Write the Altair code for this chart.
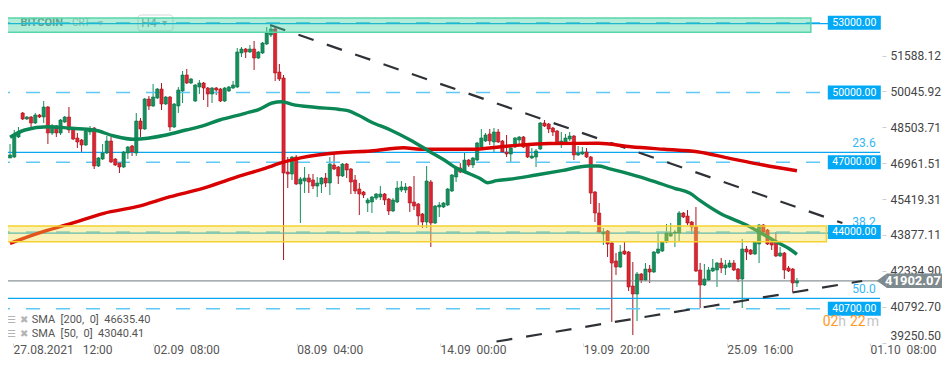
import altair as alt
import pandas as pd

# ---------------- data ----------------
# 4h candles, index 0 = 27.08.2021 12:00
OPEN = [47185, 47228, 48088, 49120, 48862, 48948, 48690, 49034, 48948, 49378,
        48260, 48561, 48260, 48733, 48948, 48432, 48045, 47959, 47744, 48303,
        48475, 46841, 47142, 47400, 47916, 47142, 46970, 46798, 47400, 47701,
        47400, 48776, 48432, 49722, 49421, 49765, 50152, 49507, 49808, 48518,
        49421, 50066, 50754, 50410, 49636, 50238, 50410, 50195, 49937, 50195,
        50152, 49636, 50066, 50195, 50238, 51700, 51872, 51743, 51872, 51485,
        51700, 52087, 52474, 52732, 50883, 50625, 46583, 46497, 47228, 46067,
        46196, 46325, 46239, 45981, 46067, 46325, 46110, 46884, 46798, 46411,
        46927, 46712, 46239, 45852, 45723, 45250, 45293, 45465, 45508, 45637,
        45422, 44906, 45293, 45809, 45809, 45938, 45293, 45207, 44777, 44433,
        46153, 44390, 45078, 45078, 45164, 45766, 46368, 46755, 46626, 47099,
        46884, 47099, 47658, 47916, 48217, 47873, 48303, 47916, 47443, 47357,
        47658, 47959, 48088, 47744, 47185, 47228, 47572, 48690, 48647, 48475,
        48346, 47830, 47830, 48002, 48131, 47314, 47357, 47443, 47228, 45723,
        44820, 43917, 44046, 43530, 42756, 42498, 43186, 43143, 41681, 41337,
        42197, 41939, 42412, 42283, 43100, 43186, 43573, 43831, 43960, 43960,
        44820, 44691, 44433, 44218, 42369, 41724, 41939, 42326, 42369, 42670,
        42455, 42498, 42670, 42412, 41982, 43272, 43229, 43057, 43487, 44304,
        44089, 43573, 43573, 42971, 43100, 42455, 42412, 41810]
HIGH = [47787, 48389, 48518, 49163, 48991, 48991, 49120, 49077, 49636, 49421,
        48647, 48604, 48862, 48991, 49378, 48475, 48260, 48002, 48432, 48561,
        48518, 47228, 47787, 48131, 48088, 47185, 47013, 47486, 47701, 47744,
        49120, 48905, 49765, 49851, 50367, 50195, 50410, 49851, 49851, 49550,
        50238, 50926, 51012, 50625, 50367, 50539, 50453, 50238, 50238, 50238,
        50195, 50238, 50281, 50496, 51915, 51958, 51915, 52044, 52216, 51786,
        52173, 52818, 52904, 52818, 51227, 50754, 47228, 47271, 47314, 46368,
        46798, 46497, 46497, 46368, 46368, 46540, 47228, 47400, 46841, 46970,
        46970, 46755, 46454, 46110, 45766, 45465, 45551, 45680, 45981, 45680,
        45465, 45465, 46196, 46196, 46110, 45981, 46411, 45250, 44820, 46841,
        46239, 45164, 45293, 45293, 45895, 46497, 46798, 46970, 47443, 47142,
        47228, 47873, 48432, 48260, 48432, 48475, 48432, 47959, 48174, 47658,
        48088, 48131, 48131, 47787, 47615, 47572, 48733, 48819, 48690, 48518,
        48389, 48303, 48217, 48303, 48174, 47701, 47658, 47615, 47271, 45766,
        45250, 44175, 44089, 43573, 43100, 43444, 43573, 43186, 42713, 42283,
        42240, 42670, 42584, 43186, 43960, 43616, 44347, 44390, 44089, 44906,
        44863, 44949, 44476, 45078, 42670, 42627, 42498, 42842, 42713, 42885,
        42799, 42799, 42799, 42455, 43702, 43401, 43272, 43616, 44347, 44347,
        44132, 43616, 44003, 43358, 43143, 42541, 42455, 42025]
LOW = [47185, 47185, 48045, 48819, 48819, 48518, 48647, 48905, 48690, 47787,
       48174, 48088, 48174, 48690, 48260, 47959, 47615, 47400, 47701, 48174,
       46712, 46798, 47099, 47357, 46970, 46841, 46540, 46755, 47142, 47271,
       47271, 48088, 48389, 49249, 49378, 49722, 49249, 49464, 48346, 48475,
       49120, 49550, 50367, 50367, 49593, 49937, 49679, 49378, 49550, 49894,
       49593, 49593, 50023, 50152, 50195, 51528, 51485, 51700, 50969, 51442,
       51657, 52044, 52388, 50496, 50496, 42799, 45895, 46239, 46024, 44390,
       45680, 45680, 45852, 45508, 45680, 45938, 45594, 46669, 46067, 46368,
       46325, 45637, 45637, 44734, 45465, 44863, 44820, 45379, 45379, 45164,
       44734, 44863, 45250, 45723, 45680, 44863, 44949, 44304, 44175, 44175,
       43358, 44347, 44648, 45035, 45121, 45723, 46153, 46540, 46583, 46798,
       46755, 47056, 47615, 47873, 47744, 47400, 47830, 47400, 47228, 47013,
       47615, 47744, 47615, 47185, 47142, 46798, 47529, 48518, 48260, 48131,
       47787, 47615, 47787, 47916, 47099, 47271, 47314, 47185, 45207, 44433,
       43960, 43444, 42928, 40133, 42154, 42455, 43014, 41466, 39574, 40176,
       41810, 41896, 41810, 42240, 43057, 43143, 43530, 43788, 43358, 43616,
       44605, 44304, 43917, 42283, 40735, 41681, 41896, 42283, 41638, 42240,
       42154, 42455, 42326, 41853, 40735, 42799, 43014, 43014, 42670, 43960,
       43444, 43229, 42928, 42928, 41982, 42283, 41423, 41638]
CLOSE = [47314, 48174, 48303, 48862, 48948, 48690, 49034, 48948, 49378, 48260,
         48561, 48260, 48819, 48948, 48389, 48002, 47873, 47744, 48346, 48389,
         46841, 47185, 47400, 47916, 47013, 46884, 46798, 47443, 47658, 47443,
         48776, 48432, 49722, 49421, 49808, 50152, 49507, 49808, 48518, 49507,
         50109, 50754, 50410, 50582, 50324, 50410, 50195, 49937, 50195, 50109,
         49636, 50195, 50238, 50324, 51743, 51872, 51743, 51872, 51485, 51743,
         52130, 52560, 52732, 50840, 50582, 46540, 46497, 47228, 46067, 46282,
         46325, 46153, 45981, 46110, 46325, 46110, 46927, 46712, 46411, 46927,
         46669, 46153, 45766, 45637, 45594, 45379, 45508, 45637, 45637, 45379,
         44906, 45379, 45895, 45938, 45938, 45250, 45121, 44691, 44433, 46196,
         44390, 45121, 45164, 45250, 45852, 46454, 46755, 46583, 47099, 46884,
         47185, 47830, 48045, 48174, 47916, 48303, 47873, 47443, 47357, 47615,
         48045, 48088, 47658, 47228, 47271, 47486, 48690, 48561, 48432, 48303,
         47830, 47916, 48045, 48131, 47314, 47400, 47443, 47228, 45680, 44820,
         44003, 44003, 43487, 42670, 42498, 43143, 43057, 41638, 41337, 42197,
         41939, 42412, 42283, 43143, 43272, 43573, 43960, 43960, 44003, 44820,
         44648, 44390, 44218, 42326, 41724, 41982, 42369, 42455, 42670, 42455,
         42584, 42670, 42369, 41982, 43272, 43143, 43057, 43573, 44304, 44003,
         43487, 43444, 42971, 43100, 42369, 42326, 41810, 41902.07]

SMA50_I = [0, 3.5, 8.9, 14.6, 20, 24.7, 29.4, 37.1, 41.8, 45.1, 49.8, 55.9, 59.2,
           62.3, 64.6, 67, 72.4, 78, 80.3, 82.7, 85.7, 90.4, 95.1, 99.8, 102.9,
           106.2, 109.3, 111.6, 113.5, 115.6, 118.6, 125, 131.1, 137.4, 139.8,
           142.1, 145.2, 151.5, 157.9, 161.6, 164, 168.7, 175, 181.3, 185.6, 187]
SMA50_V = [48075, 48389, 48531, 48462, 48389, 48131, 47989, 48174, 48389, 48531,
           48819, 49107, 49279, 49550, 49606, 49494, 49365, 49279, 49219, 49034,
           48746, 48389, 47959, 47456, 47129, 46742, 46497, 46312, 46123, 46209,
           46269, 46454, 46639, 46841, 46841, 46742, 46596, 46269, 45882, 45667,
           45349, 44807, 44304, 43659, 43229, 43040.41]
SMA200_I = [0, 6.6, 14.6, 22.3, 30.1, 38.1, 45.8, 52.9, 60.6, 64.6, 69.3, 78,
            85.7, 93.5, 97.5, 109.2, 118.6, 128, 139.8, 147.5, 155.5, 163.3,
            171, 179, 187]
SMA200_V = [43517, 43947, 44377, 44807, 45091, 45521, 45882, 46312, 46742, 46983,
            47198, 47413, 47486, 47628, 47559, 47559, 47701, 47809, 47817, 47671,
            47559, 47456, 47172, 46884, 46635.40]

X_LABELS = ["27.08.2021\u00a0\u00a0\u00a012:00", "02.09\u00a0\u00a008:00",
            "08.09\u00a0\u00a004:00", "14.09\u00a0\u00a000:00",
            "19.09\u00a0\u00a020:00", "25.09\u00a0\u00a016:00",
            "01.10\u00a0\u00a008:00"]
X_LABEL_STEP = 34.06          # candles between two time labels
Y_TICKS = [39250.50, 40792.70, 42334.90, 43877.11, 45419.31, 46961.51,
           48503.71, 50045.92, 51588.12]
LEVELS = [53000, 50000, 47000, 44000, 40700]
FIB_NAMES = ["23.6", "38.2", "50.0"]
FIB_VALUES = [47430, 43958, 41152]
FIB_TOP = 52960
LAST_PRICE = 41902.07
TREND_NAME = ["upper", "upper", "lower", "lower"]
TREND_I = [61.8, 197.8, 115.6, 202.5]
TREND_P = [52904, 44390, 39294, 41896]
ZONE_NAME = ["teal", "yellow"]
ZONE_I0 = [-1, -1]
ZONE_I1 = [190.3, 194.0]
ZONE_LO = [52590, 43586]
ZONE_HI = [53205, 44261]
SMA_LEGEND = ["SMA\u00a0\u00a0[200,\u00a0\u00a00]\u00a0\u00a046635.40",
              "SMA\u00a0\u00a0[50,\u00a0\u00a00]\u00a0\u00a043040.41"]

# ---------------- geometry ----------------
W, H = 872, 335
X_MIN, X_MAX = 0.705, 205.55
Y_MIN, Y_MAX = 39230, 53635
FONT = "Roboto"

xs = alt.Scale(domain=[X_MIN, X_MAX], nice=False, zero=False)
ys = alt.Scale(domain=[Y_MIN, Y_MAX], nice=False, zero=False)

UP, DN = "#14905c", "#de2430"
UP_W, DN_W = "#14905c", "#a8161f"

candles = pd.DataFrame({"i": range(len(OPEN)), "o": OPEN, "h": HIGH,
                        "l": LOW, "c": CLOSE})

x_ticks = [max(k * X_LABEL_STEP, X_MIN) for k in range(len(X_LABELS))]
label_arr = "[" + ",".join("'" + s + "'" for s in X_LABELS) + "]"
X_AXIS = alt.Axis(values=x_ticks,
                  labelExpr=label_arr + "[round(datum.value / %s)]" % X_LABEL_STEP,
                  labelAlign="left", labelBaseline="top", labelPadding=-2,
                  tickSize=3, tickColor="#d6d6d6", domain=False, grid=False,
                  labelFontSize=12, labelColor="#555555", labelFont=FONT,
                  title=None, labelOverlap=False, labelBound=False)
Y_AXIS = alt.Axis(orient="right", values=Y_TICKS, format=".2f", offset=2,
                  tickSize=4, tickColor="#cfcfcf", labelPadding=4,
                  domain=False, grid=False, labelFontSize=12,
                  labelColor="#444444", labelFont=FONT, title=None,
                  labelFlush=2, labelOverlap=False)


def X(field):
    return alt.X(field, scale=xs, axis=X_AXIS)


def Y(field):
    return alt.Y(field, scale=ys, axis=Y_AXIS)


def txt(text, x, y, **kw):
    return alt.Chart(pd.DataFrame({"t": [text]})).mark_text(font=FONT, **kw).encode(
        x=alt.value(x), y=alt.value(y), text="t:N")


up_test = "datum.c >= datum.o"
layers = []

# candle wicks first (carries both axes)
layers.append(alt.Chart(candles).mark_rule(strokeWidth=1).encode(
    x=X("i:Q"), y=Y("l:Q"), y2="h:Q",
    color=alt.condition(up_test, alt.value(UP_W), alt.value(DN_W))))

# header (under the teal zone)
layers.append(alt.Chart(pd.DataFrame({"a": [1]})).mark_rect(
    fill="white", fillOpacity=0.25, stroke="#cfd8d8", strokeWidth=1,
    cornerRadius=3).encode(x=alt.value(130), x2=alt.value(165),
                            y=alt.value(7), y2=alt.value(23)))
layers.append(txt("BITCOIN", 33.7, 15, fontSize=11, fontWeight="bold", color="#768383"))
layers.append(txt("CRT", 73, 15, fontSize=10, color="#a6b2b2"))
layers.append(txt("\u25be", 92, 15, fontSize=10, color="#b8c2c2"))
layers.append(txt("H4", 141, 15, fontSize=12, color="#8a9696"))
layers.append(txt("\u25be", 156, 15, fontSize=10, color="#98a4a4"))

# horizontal levels
lv = pd.DataFrame({"p": LEVELS, "label": ["%.2f" % v for v in LEVELS]})
layers.append(alt.Chart(lv).mark_rule(color="#5ec8f6", strokeWidth=1.6,
                                      strokeDash=[14, 16]).encode(y=Y("p:Q")))
fib = pd.DataFrame({"p": FIB_VALUES + [FIB_TOP]})
layers.append(alt.Chart(fib).mark_rule(color="#0aa6f0", strokeWidth=1.3).encode(
    y=Y("p:Q")))
lp = pd.DataFrame({"p": [LAST_PRICE], "label": ["%.2f" % LAST_PRICE]})
layers.append(alt.Chart(lp).mark_rule(color="#8a9599", strokeWidth=1.3).encode(
    y=Y("p:Q")))

# trend lines
tr = pd.DataFrame({"line": TREND_NAME, "i": TREND_I, "p": TREND_P})
layers.append(alt.Chart(tr).mark_line(color="#2e3236", strokeWidth=2.2,
                                      strokeDash=[16, 14], clip=True).encode(
    x=X("i:Q"), y=Y("p:Q"), detail="line:N"))

# candle bodies
layers.append(alt.Chart(candles).mark_bar(size=3.2, strokeWidth=0.6).encode(
    x=X("i:Q"), y=Y("o:Q"), y2="c:Q",
    fill=alt.condition(up_test, alt.value(UP), alt.value(DN)),
    stroke=alt.condition(up_test, alt.value("#0c7047"), alt.value("#a8161f"))))

# moving averages
s200 = pd.DataFrame({"i": SMA200_I, "p": SMA200_V})
s50 = pd.DataFrame({"i": SMA50_I, "p": SMA50_V})
layers.append(alt.Chart(s200).mark_line(color="#d80000", strokeWidth=3.4,
                                        interpolate="monotone").encode(
    x=X("i:Q"), y=Y("p:Q")))
layers.append(alt.Chart(s50).mark_line(color="#0b8655", strokeWidth=3.4,
                                       interpolate="monotone").encode(
    x=X("i:Q"), y=Y("p:Q")))

# zones (semi transparent, on top)
zones = pd.DataFrame({"name": ZONE_NAME, "i0": ZONE_I0, "i1": ZONE_I1,
                      "lo": ZONE_LO, "hi": ZONE_HI})
layers.append(alt.Chart(zones).mark_rect(strokeWidth=1.5, clip=True).encode(
    x=X("i0:Q"), x2="i1:Q", y=Y("lo:Q"), y2="hi:Q",
    fill=alt.Fill("name:N", scale=alt.Scale(domain=ZONE_NAME,
                                             range=["#3fd3a0", "#f1dd45"]),
                  legend=None),
    fillOpacity=alt.FillOpacity("name:N", scale=alt.Scale(domain=ZONE_NAME,
                                                          range=[0.4, 0.38]),
                                legend=None),
    stroke=alt.Stroke("name:N", scale=alt.Scale(domain=ZONE_NAME,
                                                 range=["#57d6aa", "#f5d22e"]),
                      legend=None)))

# fib labels
for name, val in zip(FIB_NAMES, FIB_VALUES):
    d = pd.DataFrame({"p": [val], "name": [name]})
    layers.append(alt.Chart(d).mark_text(font=FONT, fontSize=12, color="#33b5f5",
                                         dy=-11 if name == "38.2" else -9).encode(
        x=alt.value(856), y=Y("p:Q"), text="name:N"))

# level boxes
layers.append(alt.Chart(lv).mark_tick(orient="horizontal", size=53, thickness=14,
                                      color="#03a9f4", opacity=1).encode(
    x=alt.value(846.3), y=Y("p:Q")))
layers.append(alt.Chart(lv).mark_text(font=FONT, fontSize=10.5, color="white").encode(
    x=alt.value(846.3), y=Y("p:Q"), text="label:N"))

# current price tag
layers.append(alt.Chart(lp).mark_tick(orient="horizontal", size=60, thickness=14.5,
                                      color="#7f8a8e", opacity=1).encode(
    x=alt.value(908.7), y=Y("p:Q")))
layers.append(alt.Chart(lp).mark_point(shape="M -1.4 0 L 0 -1 L 0 1 Z", size=210,
                                       filled=True, color="#7f8a8e", opacity=1).encode(
    x=alt.value(878.9), y=Y("p:Q")))
layers.append(alt.Chart(lp).mark_text(font=FONT, fontSize=13, fontWeight="bold",
                                      color="white").encode(
    x=alt.value(905), y=Y("p:Q"), text="label:N"))

# countdown
layers.append(txt("02", 814.7, 314, fontSize=14, align="left", color="#ff9a1f"))
layers.append(txt("h", 830.3, 314, fontSize=14, align="left", color="#c4c4c4"))
layers.append(txt("22", 842, 314, fontSize=14, align="left", color="#ff9a1f"))
layers.append(txt("m", 858.7, 314, fontSize=14, align="left", color="#c4c4c4"))

# SMA legend
for k, s in enumerate(SMA_LEGEND):
    yy = 312 + 14 * k
    layers.append(txt("\u2630", 3, yy, fontSize=10, color="#b4b4b4"))
    layers.append(txt("\u2716", 16, yy, fontSize=10, color="#b4b4b4"))
    layers.append(txt(s, 23.7, yy, fontSize=11, align="left", color="#555555"))

chart = alt.layer(*layers).properties(
    width=W, height=H,
    padding={"left": 0, "top": 0, "right": 62, "bottom": 16},
    autosize=alt.AutoSizeParams(type="none"),
    background="white",
).configure_view(strokeWidth=0)

chart.save("out.html", embed_options={"renderer": "svg", "actions": False})
